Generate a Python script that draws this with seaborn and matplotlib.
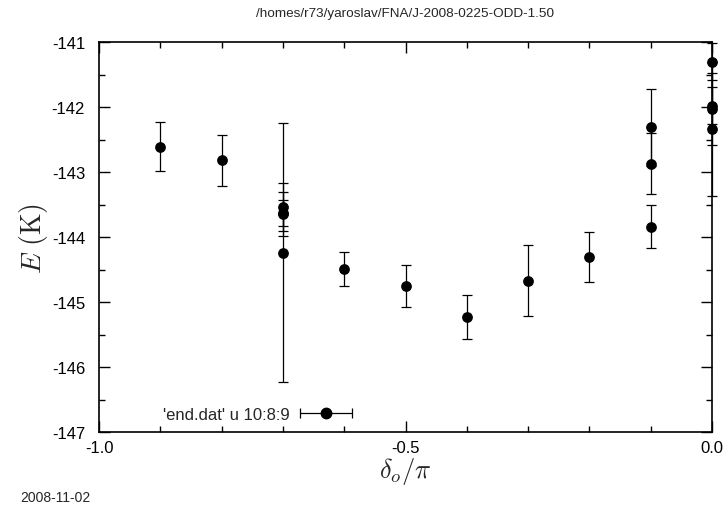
import matplotlib
matplotlib.use("Agg")
import matplotlib.pyplot as plt
import seaborn as sns
import numpy as np
import pandas as pd
from matplotlib.ticker import MultipleLocator, FormatStrFormatter
from matplotlib.container import ErrorbarContainer
from matplotlib.legend_handler import HandlerErrorbar

# data (delta_o/pi, E in K, error bar half-width)
delta = [-0.9, -0.8, -0.7, -0.7, -0.7, -0.7, -0.6, -0.5, -0.4, -0.3, -0.2,
         -0.1, -0.1, -0.1, 0.0, 0.0, 0.0, 0.0]
energy = [-142.61, -142.82, -143.54, -143.63, -143.65, -144.24, -144.49, -144.75,
          -145.23, -144.67, -144.31, -142.31, -142.87, -143.84, -141.30, -141.98,
          -142.03, -142.34]
err = [0.38, 0.39, 0.375, 0.20, 0.335, 1.99, 0.26, 0.32, 0.34, 0.54, 0.39,
       0.59, 0.47, 0.33, 0.29, 0.28, 0.55, 1.03]

title = "/homes/r73/yaroslav/FNA/J-2008-0225-ODD-1.50"
date = "2008-11-02"
key_label = "'end.dat' u 10:8:9"

df = pd.DataFrame({"delta": delta, "E": energy, "err": err})

sns.set_theme(style="ticks")
plt.rcParams['font.family'] = ['Liberation Sans', 'DejaVu Sans']
plt.rcParams['axes.unicode_minus'] = False
plt.rcParams['mathtext.fontset'] = 'cm'

fig = plt.figure(figsize=(7.26, 5.06), dpi=100)
ax = fig.add_axes([99 / 726, 73 / 506, 613 / 726, 390 / 506])

# error bars (vertical) then the dots
ax.errorbar(df["delta"], df["E"], yerr=df["err"], fmt='none', ecolor='black',
            elinewidth=0.9, capsize=3.6, capthick=0.9, clip_on=False, zorder=2)
sns.scatterplot(data=df, x="delta", y="E", ax=ax, color='black', s=60,
                edgecolor='black', linewidth=0, clip_on=False, zorder=3, legend=False)

# key entry: gnuplot shows a horizontal error bar sample
key = ax.errorbar([np.nan], [np.nan], xerr=[1.0], fmt='o', color='black', ms=7.5,
                  elinewidth=0.9, capsize=3.6, capthick=0.9, label=key_label)
leg = ax.legend(handles=[key], loc='center left', bbox_to_anchor=(0.104, 0.046),
                frameon=False, markerfirst=False, fontsize=12, handlelength=3.2,
                handletextpad=0.6, borderpad=0, borderaxespad=0,
                handler_map={ErrorbarContainer: HandlerErrorbar(xerr_size=1.55)})

ax.set_xlim(-1.0, 0.0)
ax.set_ylim(-147, -141)
ax.xaxis.set_major_locator(MultipleLocator(0.5))
ax.xaxis.set_minor_locator(MultipleLocator(0.1))
ax.yaxis.set_major_locator(MultipleLocator(1))
ax.yaxis.set_minor_locator(MultipleLocator(0.5))
ax.xaxis.set_major_formatter(FormatStrFormatter('%.1f'))
ax.yaxis.set_major_formatter(FormatStrFormatter('%d'))
ax.tick_params(which='both', direction='in', top=True, right=True, colors='black',
               labelsize=12, width=1.0)
ax.tick_params(which='major', length=8)
ax.tick_params(which='minor', length=4)
ax.tick_params(axis='y', which='major', pad=10)
ax.tick_params(axis='x', which='major', pad=6)
for sp in ax.spines.values():
    sp.set_color('black')
    sp.set_linewidth(1.2)

ax.set_xlabel(r'$\delta_o/\pi$', fontsize=19, labelpad=0)
ax.set_ylabel(r'$E\ (\mathrm{K})$', fontsize=20, labelpad=1)
ax.set_title(title, fontsize=9.7, pad=18.5)
fig.text(20 / 726, 4 / 506, date, fontsize=10, ha='left', va='baseline')

fig.savefig("out.png", dpi=100)
